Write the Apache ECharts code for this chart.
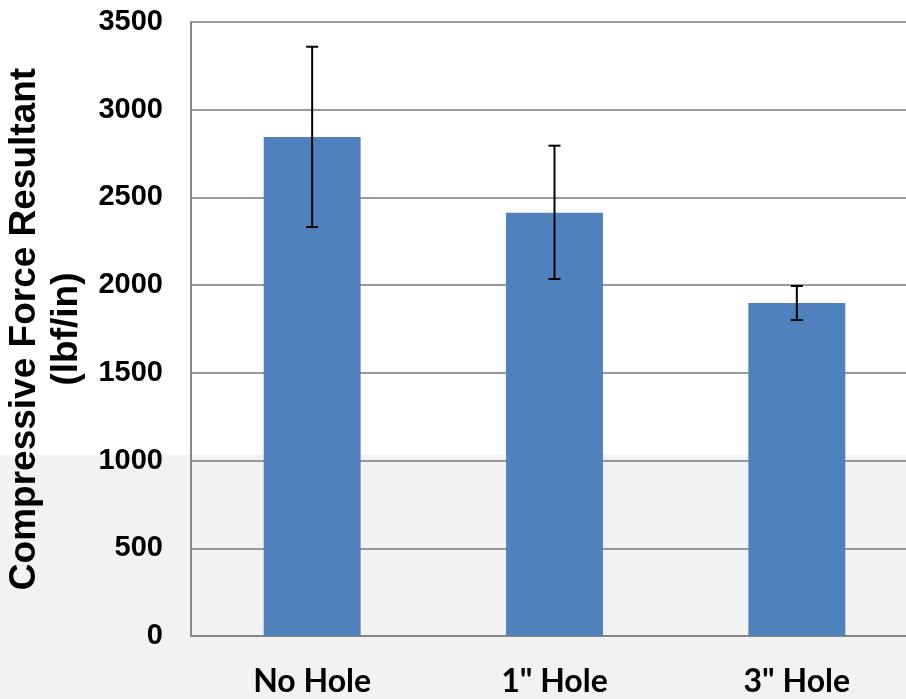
<!DOCTYPE html>
<html>
<head>
<meta charset="utf-8">
<script src="https://cdn.jsdelivr.net/npm/echarts@6/dist/echarts.min.js"></script>
<style>html,body{margin:0;padding:0;}#c{width:906px;height:699px;}</style>
</head>
<body>
<div id="c"></div>
<script>
const categories = ['No Hole', '1" Hole', '3" Hole'];
const means = [2845, 2413, 1898];
const errLow = [2331, 2035, 1801];
const errHigh = [3359, 2795, 1995];
const yTicks = { min: 0, max: 3500, interval: 500 };

const chart = echarts.init(document.getElementById('c'));
chart.setOption({
  animation: false,
  backgroundColor: {
    type: 'linear', x: 0, y: 0, x2: 0, y2: 1,
    colorStops: [
      { offset: 0, color: '#ffffff' },
      { offset: 455 / 699, color: '#ffffff' },
      { offset: 455 / 699, color: '#f2f2f2' },
      { offset: 1, color: '#f2f2f2' }
    ]
  },
  grid: { left: 191, top: 22, bottom: 63, width: 727, containLabel: false, outerBoundsMode: 'none' },
  xAxis: {
    type: 'category',
    data: categories,
    axisTick: { show: false },
    axisLine: { lineStyle: { color: '#868686', width: 2 } },
    axisLabel: { fontFamily: 'Lato', fontWeight: 'bold', fontSize: 32, color: '#000', margin: 30 }
  },
  yAxis: {
    type: 'value',
    min: yTicks.min, max: yTicks.max, interval: yTicks.interval,
    name: 'Compressive Force Resultant\n(lbf/in)',
    nameLocation: 'middle',
    nameRotate: 90,
    nameGap: 98,
    nameTextStyle: { fontFamily: 'Liberation Sans', fontWeight: 'bold', fontSize: 37, color: '#000', lineHeight: 42 },
    axisLine: { show: true, lineStyle: { color: '#868686', width: 2 } },
    axisTick: { show: false },
    splitLine: { lineStyle: { color: '#999999', width: 2 } },
    axisLabel: { fontFamily: 'Liberation Sans', fontWeight: 'bold', fontSize: 29, color: '#000', margin: 28,
      formatter: function (v) { return String(v); } }
  },
  series: [
    {
      type: 'bar',
      data: means,
      barWidth: '40%',
      itemStyle: { color: '#4F81BD' }
    },
    {
      type: 'custom',
      data: categories.map((c, i) => [i, errLow[i], errHigh[i]]),
      renderItem: function (params, api) {
        const lo = api.coord([api.value(0), api.value(1)]);
        const hi = api.coord([api.value(0), api.value(2)]);
        const hw = 6;
        const style = { stroke: '#000', lineWidth: 2 };
        return {
          type: 'group',
          children: [
            { type: 'line', shape: { x1: lo[0], y1: lo[1], x2: hi[0], y2: hi[1] }, style: style },
            { type: 'line', shape: { x1: lo[0] - hw, y1: lo[1], x2: lo[0] + hw, y2: lo[1] }, style: style },
            { type: 'line', shape: { x1: hi[0] - hw, y1: hi[1], x2: hi[0] + hw, y2: hi[1] }, style: style }
          ]
        };
      },
      z: 10
    }
  ]
});
</script>
</body>
</html>
